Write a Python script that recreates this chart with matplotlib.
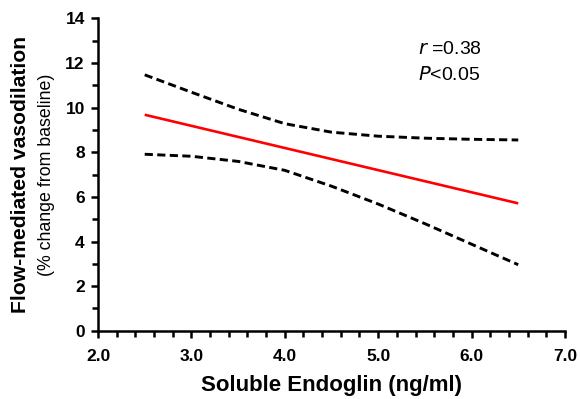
import matplotlib
matplotlib.use("Agg")
import matplotlib.pyplot as plt
from matplotlib.ticker import MultipleLocator, FormatStrFormatter

# values
x_fit = [2.5, 6.5]
y_fit = [9.68, 5.71]

x_ci = [2.5, 3.0, 3.5, 4.0, 4.5, 5.0, 5.5, 6.0, 6.5]
upper_ci = [11.47, 10.69, 9.93, 9.28, 8.90, 8.72, 8.63, 8.58, 8.55]
lower_ci = [7.91, 7.82, 7.59, 7.19, 6.48, 5.68, 4.80, 3.88, 2.96]

plt.rcParams['font.family'] = ['Liberation Sans', 'DejaVu Sans']

fig = plt.figure(figsize=[5.8, 3.99], dpi=100)
ax = fig.add_axes([0.169, 0.171, 0.805, 0.783])

dash = (0, (2.8, 1.5))
ax.plot(x_fit, y_fit, color='#ff0000', lw=1.9, solid_capstyle='butt')
ax.plot(x_ci, upper_ci, color='black', lw=2.1, linestyle=dash)
ax.plot(x_ci, lower_ci, color='black', lw=2.1, linestyle=dash)

ax.set_xlim(2.0, 7.0)
ax.set_ylim(0, 14)
ax.xaxis.set_major_locator(MultipleLocator(1.0))
ax.xaxis.set_minor_locator(MultipleLocator(0.2))
ax.yaxis.set_major_locator(MultipleLocator(2))
ax.yaxis.set_minor_locator(MultipleLocator(1))
ax.xaxis.set_major_formatter(FormatStrFormatter('%.1f'))

# Clean Graph
ax.spines["top"].set_visible(False)
ax.spines["right"].set_visible(False)
ax.spines["left"].set_linewidth(1.8)
ax.spines["bottom"].set_linewidth(1.8)
ax.tick_params(which='major', direction='out', length=5, width=1.8, labelsize=12.5)
ax.tick_params(axis='x', which='major', pad=8)
ax.tick_params(axis='y', which='major', pad=4.5)
ax.tick_params(which='minor', direction='out', length=4, width=1.8)
for lab in ax.get_xticklabels() + ax.get_yticklabels():
    lab.set_fontweight('bold')

fig.text(0.5715, 0.035, "Soluble Endoglin (ng/ml)", ha='center', va='center',
         fontweight='bold', fontsize=16)
fig.text(0.035, 0.5625, "Flow-mediated vasodilation", rotation=90, ha='center', va='center',
         fontweight='bold', fontsize=15.2)
fig.text(0.081, 0.5625, "(% change from baseline)", rotation=90, ha='center', va='center',
         fontsize=12.8)

ax.text(5.43, 12.59, r"$\it{r}$ =0.38", fontsize=14, ha='left', va='center')
ax.text(5.43, 11.47, r"$\it{P}$<0.05", fontsize=14, ha='left', va='center')

plt.savefig("out.png", dpi=100)
